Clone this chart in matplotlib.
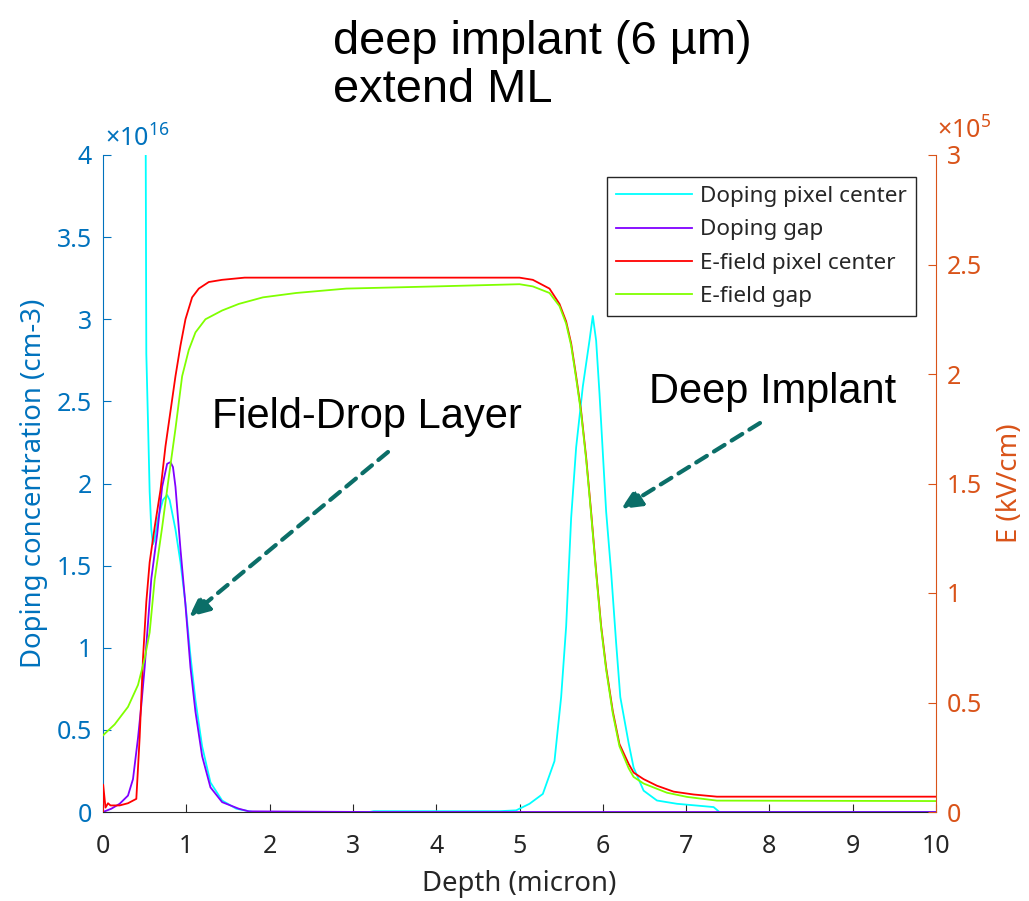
import matplotlib
matplotlib.use("Agg")
import matplotlib.pyplot as plt
from matplotlib.ticker import FuncFormatter

plt.rcParams['font.family'] = ['Noto Sans', 'DejaVu Sans']
plt.rcParams['mathtext.fontset'] = 'custom'
plt.rcParams['mathtext.rm'] = 'Noto Sans'

# doping, pixel center (x 1e16 cm-3)
depth_dc = [0.0, 0.3, 0.5, 0.51, 0.52, 0.54, 0.56, 0.58, 0.60, 0.62, 0.66, 0.72, 0.77, 0.80,
            0.87, 0.93, 0.99, 1.05, 1.11, 1.19, 1.29, 1.43, 1.6, 1.8, 3.2, 3.25, 4.76, 4.96,
            5.12, 5.28, 5.42, 5.50, 5.56, 5.58, 5.62, 5.68, 5.76, 5.84, 5.88, 5.92, 5.96, 6.04,
            6.10, 6.16, 6.21, 6.31, 6.37, 6.49, 6.65, 6.89, 7.33, 7.4, 10.0]
dop_center = [9.0, 8.0, 6.0, 4.5, 2.79, 2.38, 1.95, 1.72, 1.63, 1.66, 1.79, 1.90, 1.93, 1.90,
              1.72, 1.52, 1.27, 0.95, 0.68, 0.40, 0.18, 0.07, 0.02, 0.0, 0.0, 0.005, 0.005, 0.01,
              0.05, 0.11, 0.31, 0.70, 1.13, 1.35, 1.79, 2.22, 2.59, 2.87, 3.02, 2.87, 2.55, 1.83,
              1.46, 1.03, 0.70, 0.42, 0.27, 0.13, 0.07, 0.05, 0.03, 0.0, 0.0]

# doping, gap (x 1e16 cm-3)
depth_dg = [0.0, 0.1, 0.2, 0.3, 0.36, 0.42, 0.46, 0.5, 0.54, 0.58, 0.65, 0.71, 0.77, 0.81,
            0.84, 0.87, 0.93, 0.99, 1.05, 1.11, 1.19, 1.29, 1.43, 1.63, 1.75, 3.2, 10.0]
dop_gap = [0.0, 0.02, 0.05, 0.10, 0.2, 0.45, 0.65, 0.88, 1.15, 1.42, 1.69, 1.98, 2.12, 2.13,
           2.10, 1.98, 1.60, 1.26, 0.88, 0.61, 0.34, 0.15, 0.06, 0.02, 0.004, 0.0, 0.0]

# E-field, pixel center (x 1e5 kV/cm)
depth_ec = [0.0, 0.002, 0.03, 0.06, 0.09, 0.2, 0.3, 0.4, 0.44, 0.48, 0.52, 0.56, 0.62, 0.69,
            0.75, 0.81, 0.87, 0.93, 0.99, 1.07, 1.15, 1.27, 1.43, 1.7, 5.0, 5.16, 5.36, 5.48,
            5.56, 5.62, 5.68, 5.74, 5.80, 5.86, 5.92, 5.98, 6.04, 6.12, 6.20, 6.31, 6.37, 6.49,
            6.65, 6.85, 7.09, 7.37, 10.0]
ef_center = [0.0, 0.125, 0.02, 0.04, 0.03, 0.03, 0.04, 0.06, 0.34, 0.70, 0.96, 1.14, 1.30, 1.47,
             1.67, 1.83, 1.99, 2.13, 2.25, 2.35, 2.39, 2.42, 2.43, 2.44, 2.44, 2.43, 2.39, 2.32,
             2.24, 2.14, 1.99, 1.83, 1.62, 1.37, 1.10, 0.85, 0.66, 0.46, 0.31, 0.22, 0.18, 0.15,
             0.12, 0.093, 0.08, 0.07, 0.07]

# E-field, gap (x 1e5 kV/cm)
depth_eg = [0.0, 0.14, 0.3, 0.42, 0.5, 0.56, 0.62, 0.71, 0.79, 0.87, 0.95, 1.03, 1.11, 1.23,
            1.43, 1.63, 1.92, 2.32, 2.92, 4.0, 5.0, 5.16, 5.36, 5.48, 5.56, 5.62, 5.68, 5.74,
            5.80, 5.86, 5.92, 5.98, 6.04, 6.12, 6.20, 6.31, 6.37, 6.49, 6.77, 7.01, 7.37, 10.0]
ef_gap = [0.35, 0.40, 0.48, 0.58, 0.70, 0.82, 1.06, 1.30, 1.53, 1.75, 1.99, 2.11, 2.19, 2.25,
          2.29, 2.32, 2.35, 2.37, 2.39, 2.40, 2.41, 2.40, 2.37, 2.31, 2.23, 2.13, 1.98, 1.82,
          1.61, 1.36, 1.09, 0.84, 0.65, 0.45, 0.30, 0.20, 0.16, 0.13, 0.088, 0.069, 0.052, 0.05]

blue = '#0072BD'
orange = '#D95319'
dark = '#262626'

fig = plt.figure(figsize=(10.29, 9.01), dpi=100)
ax = fig.add_axes([103/1029, 1-812/901, (936-103)/1029, (812-155)/901])
ax2 = ax.twinx()

l1, = ax.plot(depth_dc, dop_center, color='#00FFFF', lw=1.3, label='Doping pixel center')
l2, = ax.plot(depth_dg, dop_gap, color='#8000FF', lw=1.3, label='Doping gap')
l3, = ax2.plot(depth_ec, ef_center, color='#FF0000', lw=1.3, label='E-field pixel center')
l4, = ax2.plot(depth_eg, ef_gap, color='#80FF00', lw=1.3, label='E-field gap')

ax.set_xlim(0, 10)
ax.set_ylim(0, 4)
ax2.set_ylim(0, 3)
ax.set_xticks(range(0, 11))
ax.set_yticks([0, 0.5, 1, 1.5, 2, 2.5, 3, 3.5, 4])
ax2.set_yticks([0, 0.5, 1, 1.5, 2, 2.5, 3])
fmt = FuncFormatter(lambda v, p: '%g' % v)
ax.yaxis.set_major_formatter(fmt)
ax2.yaxis.set_major_formatter(fmt)

for a in (ax, ax2):
    a.spines['top'].set_visible(False)
ax.spines['right'].set_visible(False)
ax.spines['left'].set_color(blue)
ax.spines['bottom'].set_color(dark)
ax2.spines['left'].set_visible(False)
ax2.spines['bottom'].set_visible(False)
ax2.spines['right'].set_color(orange)

ax.tick_params(axis='x', direction='in', length=6, colors=dark, labelsize=18, pad=16)
ax.tick_params(axis='y', direction='in', length=6, colors=blue, labelsize=18, pad=8)
ax2.tick_params(axis='y', direction='in', length=6, colors=orange, labelsize=18, pad=8)

ax.set_xlabel('Depth (micron)', fontsize=19.8, color=dark, labelpad=8)
ax.set_ylabel('Doping concentration (cm-3)', fontsize=19.8, color=blue, labelpad=6)
ax2.set_ylabel('E (kV/cm)', fontsize=19.8, color=orange, labelpad=10)

fig.text(105/1029, 1-147/901, '×10$^{16}$', color=blue, fontsize=18, va='baseline', ha='left')
fig.text(937/1029, 1-139/901, '×10$^{5}$', color=orange, fontsize=18, va='baseline', ha='left')

leg = ax2.legend(handles=[l1, l2, l3, l4], loc='upper right',
                 bbox_to_anchor=(916/1029, 1-177/901), bbox_transform=fig.transFigure,
                 borderaxespad=0, fontsize=16.2, handlelength=3.4, handletextpad=0.35,
                 labelspacing=0.55, fancybox=False, framealpha=1, edgecolor=dark)
leg.get_frame().set_linewidth(1.0)
for t in leg.get_texts():
    t.set_color(dark)

fig.text(333/1029, 1-20/901, 'deep implant (6 µm)\nextend ML', fontsize=33.8,
         family='Liberation Sans', va='top', ha='left', linespacing=1.12)

teal = '#0B6E68'
fig.text(212/1029, 1-428/901, 'Field-Drop Layer', fontsize=30, family='Liberation Sans',
         va='baseline', ha='left')
fig.text(649/1029, 1-403/901, 'Deep Implant', fontsize=30, family='Liberation Sans',
         va='baseline', ha='left')

arrow_kw = dict(arrowstyle='-|>,head_length=1.2,head_width=0.55', color=teal, lw=3,
                linestyle=(0, (3, 2)), shrinkA=0, shrinkB=0)
ax.annotate('', xy=(189/1029, 1-617/901), xytext=(388/1029, 1-452/901),
            xycoords='figure fraction', textcoords='figure fraction', arrowprops=arrow_kw)
ax.annotate('', xy=(621/1029, 1-509/901), xytext=(760/1029, 1-423/901),
            xycoords='figure fraction', textcoords='figure fraction', arrowprops=arrow_kw)

fig.savefig('out.png', dpi=100)
